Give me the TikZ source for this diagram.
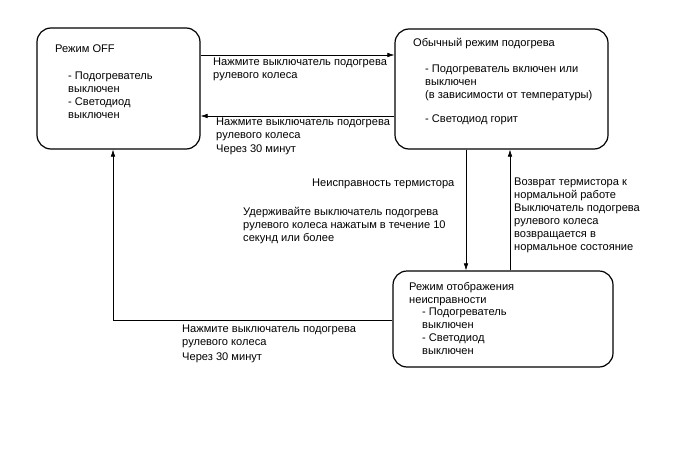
\documentclass[tikz,border=0pt]{standalone}
\usepackage{fontspec}
\setmainfont{Liberation Sans}
\usetikzlibrary{arrows.meta}
\begin{document}
\begin{tikzpicture}[x=1pt,y=-1pt,
  box/.style={draw, line width=1.2pt, rounded corners=14pt, inner sep=0pt},
  lbl/.style={anchor=north west, inner sep=0pt, align=left, font=\fontsize{11.1}{13}\selectfont},
  arr/.style={draw, line width=0.6pt, -{Latex[length=7pt,width=4.5pt]}},
  ln/.style={draw, line width=0.6pt}]
\useasboundingbox (0,0) rectangle (688,463);
% boxes
\node[box, minimum width=163pt, minimum height=121pt] (off) at (118.5,88.5) {};
\node[box, minimum width=213pt, minimum height=120pt] (normal) at (501.5,89) {};
\node[box, minimum width=220pt, minimum height=96pt] (fault) at (503,319) {};
% box texts
\node[lbl] (t1) at (55,45) {Режим OFF};
\node[lbl] (t2) at (68,72) {- Подогреватель\\выключен\\- Светодиод\\выключен};
\node[lbl] (t3) at (413,38) {Обычный режим подогрева};
\node[lbl] (t4) at (425,65) {- Подогреватель включен или\\выключен\\(в зависимости от температуры)};
\node[lbl] (t5) at (425,115) {- Светодиод горит};
\node[lbl] (t6) at (409,282) {Режим отображения\\неисправности};
\node[lbl] (t7) at (422,308) {- Подогреватель\\выключен\\- Светодиод\\выключен};
% connector coordinates
\coordinate (yA) at (0,55);
\coordinate (yB) at (0,116);
\coordinate (xC) at (466,0);
\coordinate (xD) at (510,0);
\coordinate (yE) at (0,320);
\coordinate (xE) at (113,0);
\draw[arr] (off.east |- yA) -- (normal.west |- yA);
\draw[arr] (normal.west |- yB) -- (off.east |- yB);
\draw[arr] (normal.south -| xC) -- (fault.north -| xC);
\draw[arr] (fault.north -| xD) -- (normal.south -| xD);
\coordinate (bend) at (113,320);
\draw[ln] (fault.west |- yE) -- (bend);
\draw[arr] (bend) -- (off.south -| xE);
% connector labels
\node[lbl] (l1) at (213,58) {Нажмите выключатель подогрева\\рулевого колеса};
\node[lbl] (l2) at (216,118) {Нажмите выключатель подогрева\\рулевого колеса\\[1pt]Через 30 минут};
\node[lbl] (l3) at (312,179) {Неисправность термистора};
\node[lbl] (l4) at (243,207) {Удерживайте выключатель подогрева\\рулевого колеса нажатым в течение 10\\секунд или более};
\node[lbl] (l5) at (514,178) {Возврат термистора к\\нормальной работе\\Выключатель подогрева\\рулевого колеса\\возвращается в\\нормальное состояние};
\node[lbl] (l6) at (182,325) {Нажмите выключатель подогрева\\рулевого колеса\\[2pt]Через 30 минут};
\end{tikzpicture}
\end{document}
